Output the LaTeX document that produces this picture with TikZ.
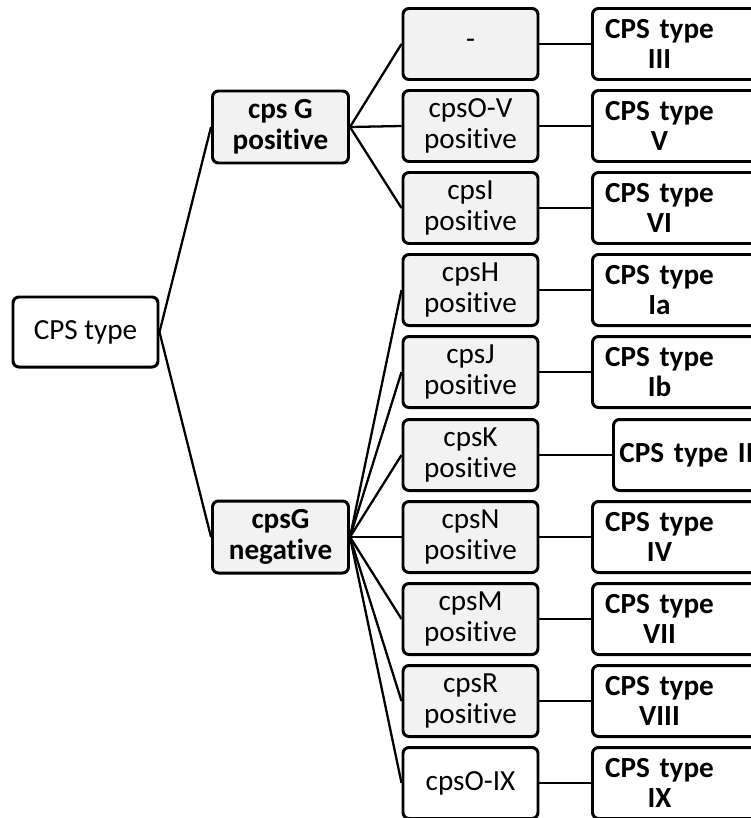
\documentclass[tikz,border=0pt]{standalone}
\usepackage{fontspec}
\setmainfont{Carlito}[Ligatures=NoCommon]
\usepackage{xcolor}
\definecolor{boxgray}{HTML}{F2F2F2}
\newcommand{\typetext}[1]{\parbox{2.44cm}{\centering #1}}

\begin{document}
\begin{tikzpicture}[
	genebox/.style = {rectangle,
		rounded corners = 0.12cm,
		draw = black,
		line width = 1.7pt,
		text = black,
		fill = boxgray,
		align = center,
		inner sep = 0pt,
		font = \fontsize{16.6}{17.4}\selectfont,
		minimum width = 2.7cm,
		minimum height = 1.42cm},
	groupbox/.style = {genebox,
		font = \fontsize{16.6}{17.4}\selectfont\bfseries,
		minimum width = 2.72cm,
		minimum height = 1.44cm},
	typebox/.style = {rectangle,
		rounded corners = 0.12cm,
		draw = black,
		line width = 1.7pt,
		text = black,
		fill = white,
		anchor = west,
		align = left,
		text width = 3.3cm,
		inner xsep = 0.12cm,
		inner ysep = 0pt,
		font = \fontsize{16.6}{17.4}\selectfont\bfseries,
		minimum height = 1.42cm},
	link/.style = {black, line width = 1.3pt}]

	\useasboundingbox (0,0) rectangle (15.02,-16.36);
	\clip (0,0) rectangle (15.02,-16.36);

	\node[genebox, fill = white, minimum width = 2.9cm, minimum height = 1.4cm] (cps) at (1.71cm,-6.64cm) {CPS type};

	\node[groupbox] (gpos) at (5.61cm,-2.54cm) {cps G\\positive};
	\node[groupbox] (gneg) at (5.61cm,-10.74cm) {cpsG\\negative};

	\node[genebox] (none) at (9.41cm,-0.88cm) {-};
	\node[genebox] (cpsov) at (9.41cm,-2.52cm) {cpsO-V\\positive};
	\node[genebox] (cpsi) at (9.41cm,-4.16cm) {cpsI\\positive};
	\node[genebox] (cpsh) at (9.41cm,-5.80cm) {cpsH\\positive};
	\node[genebox] (cpsj) at (9.41cm,-7.44cm) {cpsJ\\positive};
	\node[genebox] (cpsk) at (9.41cm,-9.10cm) {cpsK\\positive};
	\node[genebox] (cpsn) at (9.41cm,-10.74cm) {cpsN\\positive};
	\node[genebox] (cpsm) at (9.41cm,-12.38cm) {cpsM\\positive};
	\node[genebox] (cpsr) at (9.41cm,-14.02cm) {cpsR\\positive};
	\node[genebox, fill = white] (cpsoix) at (9.41cm,-15.66cm) {cpsO-IX};

	\node[typebox] (t3) at (11.82cm,-0.88cm) {\typetext{CPS type\\III}};
	\node[typebox] (t5) at (11.82cm,-2.52cm) {\typetext{CPS type\\V}};
	\node[typebox] (t6) at (11.82cm,-4.16cm) {\typetext{CPS type\\VI}};
	\node[typebox] (t1a) at (11.82cm,-5.80cm) {\typetext{CPS type\\Ia}};
	\node[typebox] (t1b) at (11.82cm,-7.44cm) {\typetext{CPS type\\Ib}};
	\node[typebox] (t2) at (12.24cm,-9.10cm) {CPS type II};
	\node[typebox] (t4) at (11.82cm,-10.74cm) {\typetext{CPS type\\IV}};
	\node[typebox] (t7) at (11.82cm,-12.38cm) {\typetext{CPS type\\VII}};
	\node[typebox] (t8) at (11.82cm,-14.02cm) {\typetext{CPS type\\VIII}};
	\node[typebox] (t9) at (11.82cm,-15.66cm) {\typetext{CPS type\\IX}};

	\draw[link] (cps.east) to (gpos.west);
	\draw[link] (cps.east) to (gneg.west);

	\draw[link] (gpos.east) to (none.west);
	\draw[link] (gpos.east) to (cpsov.west);
	\draw[link] (gpos.east) to (cpsi.west);

	\draw[link] (gneg.east) to (cpsh.west);
	\draw[link] (gneg.east) to (cpsj.west);
	\draw[link] (gneg.east) to (cpsk.west);
	\draw[link] (gneg.east) to (cpsn.west);
	\draw[link] (gneg.east) to (cpsm.west);
	\draw[link] (gneg.east) to (cpsr.west);
	\draw[link] (gneg.east) to (cpsoix.west);

	\draw[link] (none) to (t3);
	\draw[link] (cpsov) to (t5);
	\draw[link] (cpsi) to (t6);
	\draw[link] (cpsh) to (t1a);
	\draw[link] (cpsj) to (t1b);
	\draw[link] (cpsk) to (t2);
	\draw[link] (cpsn) to (t4);
	\draw[link] (cpsm) to (t7);
	\draw[link] (cpsr) to (t8);
	\draw[link] (cpsoix) to (t9);

\end{tikzpicture}
\end{document}
